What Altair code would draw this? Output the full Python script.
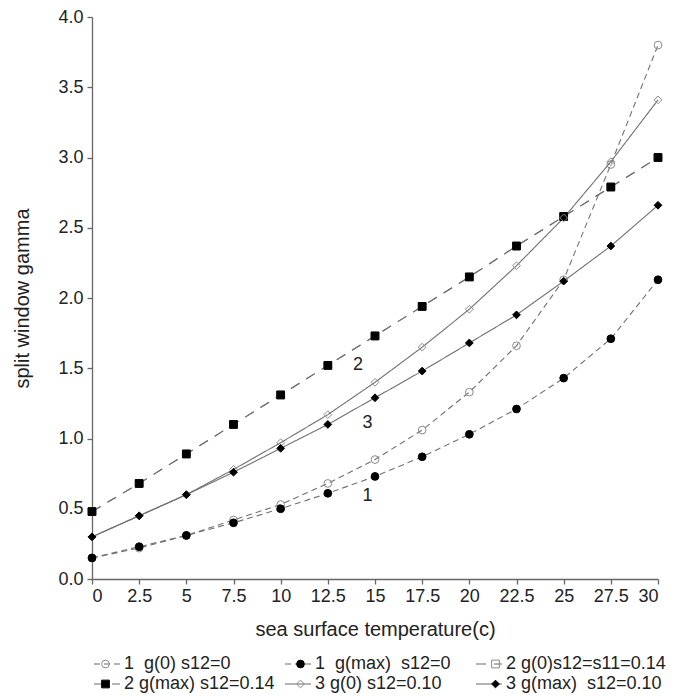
import altair as alt
import pandas as pd

temps = [0, 2.5, 5, 7.5, 10, 12.5, 15, 17.5, 20, 22.5, 25, 27.5, 30]

series_names = [
    "1\u00a0 g(0) s12=0",
    "1\u00a0 g(max)\u00a0 s12=0",
    "2 g(0)s12=s11=0.14",
    "2 g(max) s12=0.14",
    "3 g(0) s12=0.10",
    "3 g(max)\u00a0 s12=0.10",
]

g1_zero = [0.15, 0.22, 0.31, 0.42, 0.53, 0.68, 0.85, 1.06, 1.33, 1.66, 2.13, 2.95, 3.80]
g1_max = [0.15, 0.23, 0.31, 0.40, 0.50, 0.61, 0.73, 0.87, 1.03, 1.21, 1.43, 1.71, 2.13]
g2_zero = [0.48, 0.68, 0.89, 1.10, 1.31, 1.52, 1.73, 1.94, 2.15, 2.37, 2.58, 2.79, 3.00]
g2_max = [0.48, 0.68, 0.89, 1.10, 1.31, 1.52, 1.73, 1.94, 2.15, 2.37, 2.58, 2.79, 3.00]
g3_zero = [0.30, 0.45, 0.60, 0.78, 0.97, 1.17, 1.40, 1.65, 1.92, 2.23, 2.57, 2.97, 3.41]
g3_max = [0.30, 0.45, 0.60, 0.76, 0.93, 1.10, 1.29, 1.48, 1.68, 1.88, 2.12, 2.37, 2.66]

curve_labels = ["2", "3", "1"]
curve_label_t = [14.1, 14.6, 14.6]
curve_label_g = [1.52, 1.11, 0.59]

rows = []
for name, vals in zip(series_names, [g1_zero, g1_max, g2_zero, g2_max, g3_zero, g3_max]):
    for t, v in zip(temps, vals):
        rows.append({"t": t, "gamma": v, "series": name})
df = pd.DataFrame(rows)
lab_df = pd.DataFrame({"t": curve_label_t, "gamma": curve_label_g, "lab": curve_labels})

FONT = "Liberation Sans"
FS = 18
TFS = 20

x_enc = alt.X(
    "t:Q",
    scale=alt.Scale(domain=[0, 30], nice=False, zero=False),
    axis=alt.Axis(
        values=temps,
        labelExpr="'' + datum.value",
        labelPadding=3,
        title="sea surface temperature(c)",
        titleY=56,
        titleBaseline="alphabetic",
    ),
)
y_enc = alt.Y(
    "gamma:Q",
    scale=alt.Scale(domain=[0, 4], nice=False),
    axis=alt.Axis(
        values=[0, 0.5, 1, 1.5, 2, 2.5, 3, 3.5, 4],
        format=".1f",
        labelPadding=4,
        title="split window gamma",
        titleX=-70,
        titleBaseline="middle",
    ),
)

leg_common = dict(
    title=None,
    orient="none",
    legendY=638,
    direction="horizontal",
    columns=3,
    gridAlign="all",
    rowPadding=2,
    clipHeight=18,
    padding=0,
    labelFontSize=FS,
    labelFont=FONT,
    labelColor="#222222",
    labelBaseline="middle",
)

# legend carrying the line samples and the visible labels
leg_line = alt.Legend(
    legendX=1,
    columnPadding=0,
    labelOffset=3,
    symbolType="stroke",
    symbolSize=676,
    symbolStrokeWidth=1.2,
    symbolStrokeColor="#6a6a6a",
    **leg_common,
)

# legend carrying only the marker symbols, laid over the line samples
leg_mark = alt.Legend(
    legendX=4.5,
    columnPadding=164,
    labelOffset=12.5,
    labelExpr="''",
    symbolSize=60,
    symbolStrokeWidth=1,
    **leg_common,
)

lines = alt.Chart(df).mark_line(strokeWidth=1.1, color="#707070").encode(
    x=x_enc,
    y=y_enc,
    detail="series:N",
    strokeDash=alt.StrokeDash(
        "series:N",
        scale=alt.Scale(range=[[6, 4], [6, 4], [10, 8], [10, 8], [1, 0], [1, 0]]),
        legend=leg_line,
    ),
)

points = alt.Chart(df).mark_point(opacity=1, strokeWidth=1, size=60).encode(
    x=x_enc,
    y=y_enc,
    shape=alt.Shape(
        "series:N",
        scale=alt.Scale(
            domain=series_names,
            range=["circle", "circle", "square", "square", "diamond", "diamond"],
        ),
        legend=leg_mark,
    ),
    fill=alt.Fill(
        "series:N",
        scale=alt.Scale(
            domain=series_names,
            range=["transparent", "black", "transparent", "black", "transparent", "black"],
        ),
        legend=leg_mark,
    ),
    stroke=alt.Stroke(
        "series:N",
        scale=alt.Scale(
            domain=series_names,
            range=["#8a8a8a", "black", "#8a8a8a", "black", "#8a8a8a", "black"],
        ),
        legend=leg_mark,
    ),
)

labels = alt.Chart(lab_df).mark_text(
    font=FONT, fontSize=FS, color="#222222"
).encode(x="t:Q", y="gamma:Q", text="lab:N")

chart = (
    alt.layer(lines, points, labels)
    .properties(
        width=566,
        height=562,
        autosize=alt.AutoSizeParams(type="none"),
        padding={"left": 92, "top": 17, "right": 24, "bottom": 117},
    )
    .configure_view(stroke=None)
    .configure_axis(
        grid=False,
        domainColor="#666666",
        domainWidth=1.3,
        tickColor="#666666",
        tickWidth=1.3,
        tickSize=5,
        labelFont=FONT,
        labelFontSize=FS,
        labelColor="#222222",
        titleFont=FONT,
        titleFontSize=TFS,
        titleFontWeight="normal",
        titleColor="#222222",
    )
)

chart.save("out.html", embed_options={"renderer": "svg", "actions": False})
